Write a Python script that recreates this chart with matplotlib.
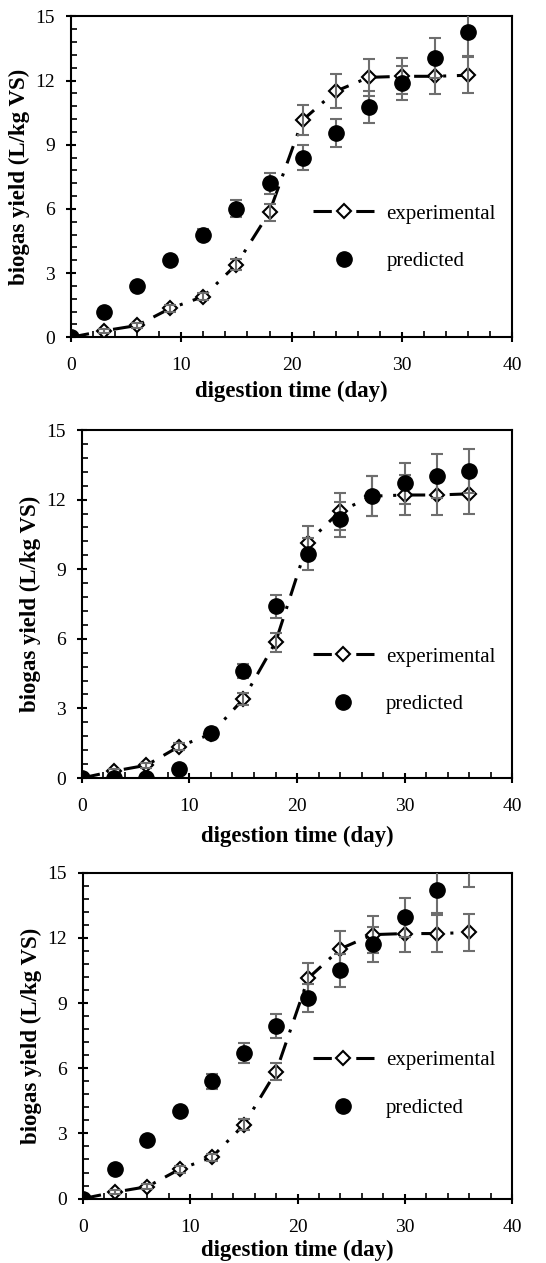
import numpy as np
import matplotlib
matplotlib.use('Agg')
import matplotlib.pyplot as plt
from matplotlib.ticker import MultipleLocator

plt.rcParams['font.family'] = ['Liberation Serif', 'DejaVu Serif']

# digestion time (day)
days = [0, 3, 6, 9, 12, 15, 18, 21, 24, 27, 30, 33, 36]

# experimental yield and its error (same in every panel)
exp_yield = [0, 0.3, 0.55, 1.35, 1.9, 3.4, 5.85, 10.15, 11.5, 12.15, 12.2, 12.2, 12.25]
exp_err = [0, 0.1, 0.1, 0.15, 0.15, 0.25, 0.4, 0.7, 0.8, 0.85, 0.85, 0.85, 0.85]

# predicted yield for the three panels
pred_a = [0, 1.2, 2.4, 3.6, 4.8, 6.0, 7.2, 8.4, 9.55, 10.75, 11.9, 13.05, 14.25]
err_a = [0, 0, 0, 0, 0.25, 0.4, 0.5, 0.6, 0.65, 0.75, 0.8, 0.95, 1.1]

pred_b = [0, 0, 0, 0.4, 1.95, 4.6, 7.4, 9.65, 11.15, 12.15, 12.7, 13.0, 13.25]
err_b = [0, 0, 0, 0, 0, 0.3, 0.5, 0.7, 0.75, 0.85, 0.9, 0.95, 0.95]

pred_c = [0, 1.35, 2.7, 4.05, 5.4, 6.7, 7.95, 9.25, 10.5, 11.7, 12.95, 14.2, 15.45]
err_c = [0, 0, 0, 0, 0.35, 0.45, 0.55, 0.65, 0.75, 0.8, 0.9, 1.05, 1.1]

panels = [(pred_a, err_a), (pred_b, err_b), (pred_c, err_c)]
# axes rectangles in figure fraction
rects = [[0.130, 0.733, 0.808, 0.254],
         [0.150, 0.384, 0.788, 0.2755],
         [0.152, 0.051, 0.786, 0.258]]
# legend centre height (axes fraction) per panel
leg_y = [0.31, 0.28, 0.35]
# gap between tick labels and x label per panel
xpads = [5, 8, 3]

fig = plt.figure(figsize=(5.46, 12.63), dpi=100)
grey = '#6e6e6e'

for (pred, perr), rect, ly, xp in zip(panels, rects, leg_y, xpads):
    ax = fig.add_axes(rect)
    ax.plot(days, exp_yield, color='black', lw=2.2,
            dashes=(6, 3.5, 1, 3.5), marker='D', ms=7.5,
            mfc='white', mec='black', mew=1.5, zorder=3,
            label='experimental')
    ax.errorbar(days, exp_yield, yerr=exp_err, fmt='none', ecolor=grey,
                elinewidth=1.5, capsize=4.5, capthick=1.5, zorder=4)
    ax.errorbar(days, pred, yerr=perr, fmt='none', ecolor=grey,
                elinewidth=1.5, capsize=4.5, capthick=1.5, zorder=4)
    ax.plot(days, pred, 'o', color='black', ms=11, zorder=5,
            label='predicted')

    ax.set_xlim(0, 40)
    ax.set_ylim(0, 15)
    ax.xaxis.set_major_locator(MultipleLocator(10))
    ax.xaxis.set_minor_locator(MultipleLocator(2))
    ax.yaxis.set_major_locator(MultipleLocator(3))
    ax.yaxis.set_minor_locator(MultipleLocator(0.6))
    ax.tick_params(which='major', direction='inout', length=7, width=1.5,
                   labelsize=14, pad=8)
    ax.tick_params(axis='x', which='major', pad=11)
    ax.tick_params(which='minor', direction='in', length=4, width=1.2)
    for sp in ax.spines.values():
        sp.set_linewidth(1.5)
    ax.set_xlabel('digestion time (day)', fontsize=16.5, fontweight='bold',
                  labelpad=xp)
    ax.set_ylabel('biogas yield (L/kg VS)', fontsize=16.5, fontweight='bold',
                  labelpad=4)
    ax.legend(loc='center right', bbox_to_anchor=(1.005, ly), frameon=False,
              fontsize=15, handlelength=2.9, labelspacing=1.35,
              handletextpad=0.6)

fig.savefig('out.png', dpi=100)
